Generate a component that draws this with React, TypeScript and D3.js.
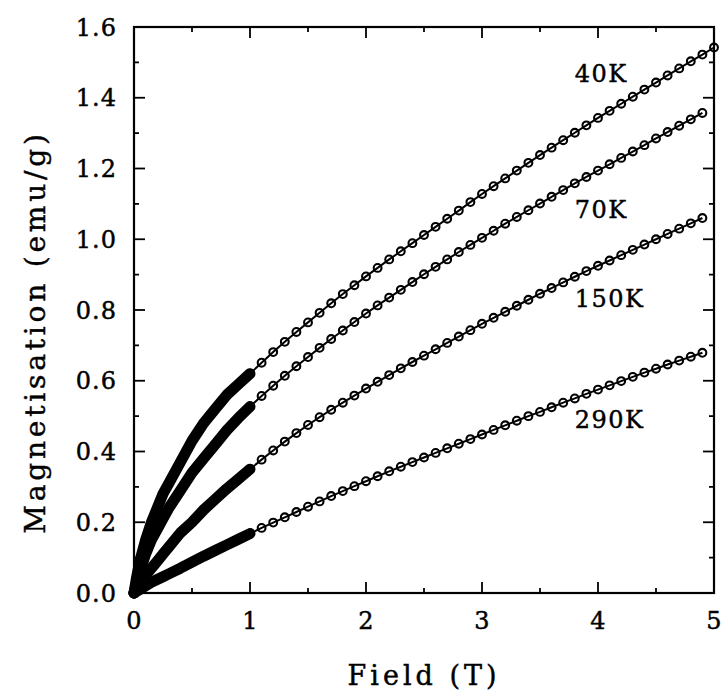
import React from 'react';
import * as d3 from 'd3';

// Low-field (dense) measurements, 0–1 T
const fieldLow = [0, 0.02, 0.05, 0.1, 0.15, 0.2, 0.25, 0.3, 0.4, 0.5, 0.6, 0.7, 0.8, 0.9, 1.0];
const m40Low = [0, 0.04, 0.09, 0.15, 0.2, 0.24, 0.28, 0.31, 0.37, 0.43, 0.48, 0.52, 0.56, 0.59, 0.62];
const m70Low = [0, 0.025, 0.06, 0.11, 0.15, 0.18, 0.21, 0.24, 0.29, 0.34, 0.38, 0.42, 0.46, 0.495, 0.527];
const m150Low = [0, 0.01, 0.025, 0.05, 0.07, 0.09, 0.11, 0.13, 0.17, 0.2, 0.235, 0.265, 0.295, 0.322, 0.35];
const m290Low = [0, 0.004, 0.01, 0.02, 0.03, 0.038, 0.046, 0.054, 0.07, 0.087, 0.104, 0.12, 0.136, 0.152, 0.168];

// High-field measurements, 1–5 T in 0.1 T steps
const fieldHigh = [
  1.0, 1.1, 1.2, 1.3, 1.4, 1.5, 1.6, 1.7, 1.8, 1.9,
  2.0, 2.1, 2.2, 2.3, 2.4, 2.5, 2.6, 2.7, 2.8, 2.9,
  3.0, 3.1, 3.2, 3.3, 3.4, 3.5, 3.6, 3.7, 3.8, 3.9,
  4.0, 4.1, 4.2, 4.3, 4.4, 4.5, 4.6, 4.7, 4.8, 4.9,
  5.0,
];
const m40High = [
  0.62, 0.651, 0.681, 0.71, 0.738, 0.765, 0.792, 0.819, 0.845, 0.87,
  0.895, 0.919, 0.943, 0.966, 0.989, 1.012, 1.035, 1.058, 1.081, 1.105,
  1.128, 1.15, 1.172, 1.194, 1.216, 1.238, 1.259, 1.28, 1.301, 1.322,
  1.343, 1.363, 1.383, 1.403, 1.423, 1.443, 1.463, 1.483, 1.503, 1.522,
  1.542,
];
const m70High = [
  0.527, 0.557, 0.586, 0.614, 0.641, 0.667, 0.693, 0.718, 0.742, 0.766,
  0.79, 0.813, 0.835, 0.857, 0.879, 0.901, 0.922, 0.943, 0.964, 0.984,
  1.004, 1.024, 1.044, 1.063, 1.082, 1.101, 1.12, 1.139, 1.158, 1.176,
  1.194, 1.212, 1.23, 1.248, 1.266, 1.285, 1.303, 1.321, 1.339, 1.357,
];
const m150High = [
  0.35, 0.377, 0.403, 0.428, 0.452, 0.475, 0.497, 0.518, 0.538, 0.558,
  0.578, 0.597, 0.616, 0.635, 0.653, 0.671, 0.689, 0.707, 0.725, 0.743,
  0.761, 0.778, 0.795, 0.812, 0.829, 0.846, 0.862, 0.878, 0.894, 0.91,
  0.925, 0.94, 0.955, 0.97, 0.985, 1.0, 1.015, 1.03, 1.045, 1.06,
];
const m290High = [
  0.168, 0.184, 0.199, 0.214, 0.229, 0.244, 0.259, 0.274, 0.288, 0.302,
  0.316, 0.33, 0.344, 0.357, 0.37, 0.383, 0.396, 0.409, 0.422, 0.435,
  0.448, 0.461, 0.474, 0.487, 0.5, 0.512, 0.525, 0.538, 0.55, 0.563,
  0.575, 0.587, 0.599, 0.611, 0.623, 0.634, 0.646, 0.657, 0.668, 0.679,
];

const seriesLabels = ['40K', '70K', '150K', '290K'];
const xTickValues = [0, 1, 2, 3, 4, 5];
const yTickValues = [0, 0.2, 0.4, 0.6, 0.8, 1.0, 1.2, 1.4, 1.6];
const xLabel = 'Field (T)';
const yLabel = 'Magnetisation (emu/g)';

const FONT = '"DejaVu Serif", "Liberation Serif", serif';

export default function App() {
  const W = 721;
  const H = 693;
  const x = d3.scaleLinear().domain([0, 5]).range([134, 714]);
  const y = d3.scaleLinear().domain([0, 1.6]).range([593, 27]);
  const line = d3
    .line<[number, number]>()
    .x((d) => x(d[0]))
    .y((d) => y(d[1]));

  const lows = [m40Low, m70Low, m150Low, m290Low];
  const highs = [m40High, m70High, m150High, m290High];
  // label anchor in data coordinates
  const labelAnchors: [number, number][] = [
    [3.8, 1.445],
    [3.8, 1.06],
    [3.8, 0.809],
    [3.8, 0.466],
  ];

  const [x0, x1] = x.range();
  const [y0, y1] = y.range();

  const yMinor = d3.range(0, 1.61, 0.1);
  const xMinor = d3.range(0, 5.01, 0.5);

  const textStroke = { stroke: '#000', strokeWidth: 0.45 };

  return (
    <svg
      width={W}
      height={H}
      style={{ position: 'absolute', left: 0, top: 0, background: '#fff' }}
      fontFamily={FONT}
    >
      <rect x={0} y={0} width={W} height={H} fill="#fff" />
      {/* frame */}
      <rect x={x0} y={y1} width={x1 - x0} height={y0 - y1} fill="none" stroke="#000" strokeWidth={2.2} />

      {/* y ticks (left and right) */}
      {yMinor.map((v, i) => {
        const major = i % 2 === 0;
        const len = major ? 11 : 5;
        return (
          <g key={'yt' + i}>
            <line x1={x0} x2={x0 + len} y1={y(v)} y2={y(v)} stroke="#000" strokeWidth={1.8} />
            <line x1={x1} x2={x1 - len} y1={y(v)} y2={y(v)} stroke="#000" strokeWidth={1.8} />
          </g>
        );
      })}
      {/* x ticks (bottom and top) */}
      {xMinor.map((v, i) => {
        const major = i % 2 === 0;
        const len = major ? 11 : 5;
        return (
          <g key={'xt' + i}>
            <line x1={x(v)} x2={x(v)} y1={y0} y2={y0 - len} stroke="#000" strokeWidth={1.8} />
            <line x1={x(v)} x2={x(v)} y1={y1} y2={y1 + len} stroke="#000" strokeWidth={1.8} />
          </g>
        );
      })}

      {/* y tick labels */}
      {yTickValues.map((v) => (
        <text
          key={'yl' + v}
          x={117}
          y={y(v) + 8.5}
          textAnchor="end"
          fontSize={24}
          letterSpacing={1}
          fill="#000"
          {...textStroke}
        >
          {d3.format('.1f')(v)}
        </text>
      ))}
      {/* x tick labels */}
      {xTickValues.map((v) => (
        <text key={'xl' + v} x={x(v)} y={629} textAnchor="middle" fontSize={24} fill="#000" {...textStroke}>
          {String(v)}
        </text>
      ))}

      {/* axis titles */}
      <text x={424} y={685} textAnchor="middle" fontSize={27} letterSpacing={4} fill="#000" {...textStroke}>
        {xLabel}
      </text>
      <text
        transform={`translate(45, 332) rotate(-90)`}
        textAnchor="middle"
        fontSize={28}
        letterSpacing={3.8}
        fill="#000"
        {...textStroke}
      >
        {yLabel}
      </text>

      {/* data */}
      {lows.map((m, si) => {
        const pts = fieldLow.map((f, i) => [f, m[i]] as [number, number]);
        return (
          <path
            key={'band' + si}
            d={line(pts) || ''}
            fill="none"
            stroke="#000"
            strokeWidth={11}
            strokeLinecap="round"
            strokeLinejoin="round"
          />
        );
      })}
      {highs.map((m, si) => {
        const pts = m.map((v, i) => [fieldHigh[i], v] as [number, number]);
        return (
          <g key={'hi' + si}>
            <path d={line(pts) || ''} fill="none" stroke="#000" strokeWidth={2} />
            {pts.map((p, i) => (
              <circle
                key={i}
                cx={x(p[0])}
                cy={y(p[1])}
                r={3.9}
                fill="none"
                stroke="#000"
                strokeWidth={2.1}
              />
            ))}
          </g>
        );
      })}

      {/* series labels */}
      {seriesLabels.map((s, i) => (
        <text
          key={s}
          x={x(labelAnchors[i][0])}
          y={y(labelAnchors[i][1])}
          fontSize={24}
          letterSpacing={1.5}
          fill="#000"
          {...textStroke}
        >
          {s}
        </text>
      ))}
    </svg>
  );
}
